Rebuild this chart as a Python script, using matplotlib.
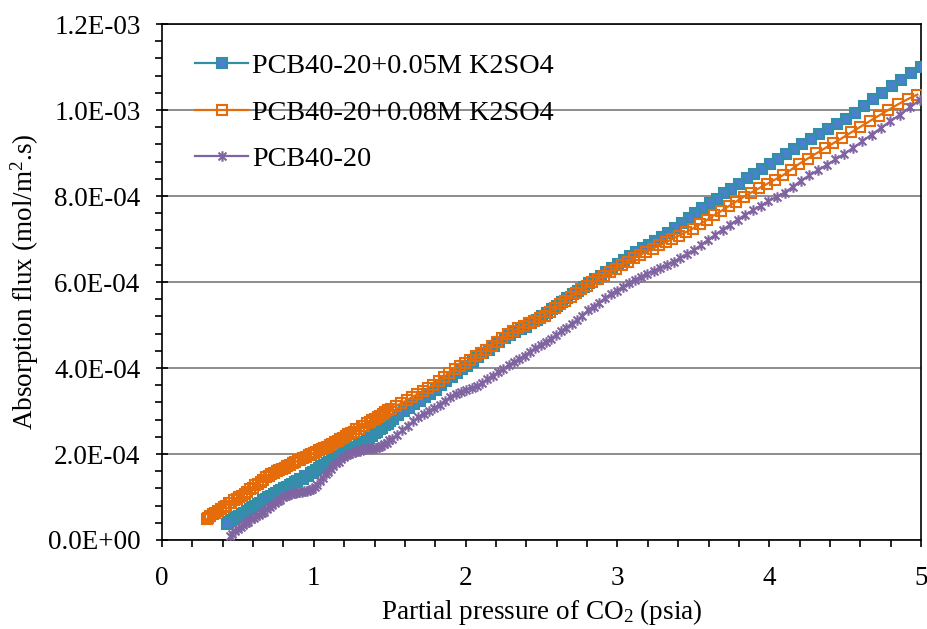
import matplotlib
matplotlib.use("Agg")
import matplotlib.pyplot as plt
from matplotlib.path import Path
from matplotlib.ticker import MultipleLocator, FuncFormatter

plt.rcParams['font.family'] = ['Liberation Serif', 'DejaVu Serif']
plt.rcParams['mathtext.default'] = 'regular'

# ---------------- data (flux in 1e-4 mol/m2.s) ----------------
p_005 = [5.000, 4.935, 4.871, 4.808, 4.745, 4.684, 4.623, 4.563, 4.504, 4.446,
         4.388, 4.331, 4.275, 4.219, 4.165, 4.111, 4.057, 4.005, 3.953, 3.901,
         3.851, 3.801, 3.751, 3.703, 3.655, 3.607, 3.560, 3.514, 3.469, 3.424,
         3.379, 3.335, 3.292, 3.249, 3.207, 3.166, 3.125, 3.084, 3.044, 3.005,
         2.966, 2.927, 2.889, 2.852, 2.815, 2.778, 2.742, 2.707, 2.671, 2.637,
         2.602, 2.569, 2.535, 2.502, 2.467, 2.432, 2.397, 2.362, 2.327, 2.292,
         2.257, 2.222, 2.187, 2.152, 2.117, 2.082, 2.047, 2.012, 1.977, 1.942,
         1.907, 1.872, 1.837, 1.802, 1.767, 1.732, 1.697, 1.662, 1.627, 1.592,
         1.557, 1.522, 1.505, 1.487, 1.470, 1.452, 1.435, 1.417, 1.400, 1.382,
         1.365, 1.347, 1.330, 1.312, 1.295, 1.277, 1.260, 1.242, 1.225, 1.207,
         1.190, 1.172, 1.155, 1.137, 1.120, 1.102, 1.085, 1.067, 1.050, 1.032,
         1.015, 0.997, 0.980, 0.962, 0.945, 0.927, 0.910, 0.892, 0.875, 0.857,
         0.840, 0.822, 0.805, 0.787, 0.770, 0.752, 0.735, 0.717, 0.700, 0.682,
         0.665, 0.647, 0.630, 0.612, 0.595, 0.577, 0.560, 0.542, 0.525, 0.507,
         0.490, 0.472, 0.455, 0.437, 0.425]
f_005 = [11.00, 10.85, 10.70, 10.55, 10.40, 10.25, 10.09, 9.93, 9.80, 9.68,
         9.56, 9.44, 9.32, 9.21, 9.09, 8.97, 8.85, 8.74, 8.63, 8.52,
         8.41, 8.29, 8.17, 8.06, 7.94, 7.83, 7.71, 7.60, 7.49, 7.38,
         7.25, 7.15, 7.05, 6.96, 6.87, 6.78, 6.69, 6.60, 6.51, 6.42,
         6.33, 6.24, 6.15, 6.06, 5.97, 5.89, 5.80, 5.71, 5.62, 5.54,
         5.45, 5.37, 5.28, 5.20, 5.12, 5.04, 4.96, 4.91, 4.84, 4.77,
         4.69, 4.61, 4.52, 4.43, 4.34, 4.25, 4.15, 4.05, 3.98, 3.89,
         3.80, 3.70, 3.60, 3.49, 3.40, 3.32, 3.24, 3.16, 3.07, 2.99,
         2.90, 2.81, 2.77, 2.70, 2.68, 2.61, 2.58, 2.51, 2.48, 2.41,
         2.38, 2.31, 2.29, 2.24, 2.22, 2.17, 2.16, 2.11, 2.09, 2.05,
         2.03, 1.98, 1.95, 1.89, 1.87, 1.82, 1.80, 1.75, 1.72, 1.67,
         1.62, 1.57, 1.55, 1.49, 1.48, 1.43, 1.41, 1.37, 1.35, 1.30,
         1.28, 1.23, 1.21, 1.17, 1.15, 1.10, 1.08, 1.03, 1.00, 0.95,
         0.92, 0.87, 0.84, 0.79, 0.76, 0.71, 0.68, 0.62, 0.60, 0.55,
         0.53, 0.48, 0.46, 0.41, 0.38]

p_008 = [4.976, 4.911, 4.847, 4.784, 4.722, 4.661, 4.600, 4.540, 4.481, 4.423,
         4.366, 4.309, 4.253, 4.198, 4.143, 4.089, 4.036, 3.984, 3.932, 3.881,
         3.831, 3.781, 3.732, 3.683, 3.635, 3.588, 3.541, 3.495, 3.450, 3.405,
         3.361, 3.317, 3.274, 3.232, 3.190, 3.148, 3.107, 3.067, 3.027, 2.988,
         2.949, 2.911, 2.873, 2.835, 2.798, 2.762, 2.726, 2.691, 2.656, 2.621,
         2.587, 2.553, 2.520, 2.487, 2.452, 2.417, 2.382, 2.347, 2.312, 2.277,
         2.242, 2.207, 2.172, 2.137, 2.102, 2.067, 2.032, 1.997, 1.962, 1.927,
         1.892, 1.857, 1.822, 1.787, 1.752, 1.717, 1.682, 1.647, 1.612, 1.577,
         1.542, 1.507, 1.490, 1.472, 1.455, 1.437, 1.420, 1.402, 1.385, 1.367,
         1.350, 1.332, 1.315, 1.297, 1.280, 1.262, 1.245, 1.227, 1.210, 1.192,
         1.175, 1.157, 1.140, 1.122, 1.105, 1.087, 1.070, 1.052, 1.035, 1.017,
         1.000, 0.982, 0.965, 0.947, 0.930, 0.912, 0.895, 0.877, 0.860, 0.842,
         0.825, 0.807, 0.790, 0.772, 0.755, 0.737, 0.720, 0.702, 0.685, 0.667,
         0.650, 0.632, 0.615, 0.597, 0.580, 0.562, 0.545, 0.527, 0.510, 0.492,
         0.475, 0.457, 0.440, 0.422, 0.405, 0.387, 0.370, 0.352, 0.335, 0.317,
         0.300, 0.295]
f_008 = [10.36, 10.25, 10.13, 10.00, 9.87, 9.74, 9.61, 9.48, 9.35, 9.23,
         9.11, 8.99, 8.87, 8.75, 8.61, 8.48, 8.38, 8.28, 8.18, 8.08,
         7.98, 7.87, 7.76, 7.65, 7.55, 7.44, 7.34, 7.24, 7.16, 7.08,
         7.00, 6.92, 6.85, 6.77, 6.70, 6.63, 6.55, 6.47, 6.39, 6.31,
         6.23, 6.15, 6.07, 5.99, 5.91, 5.83, 5.74, 5.66, 5.57, 5.48,
         5.39, 5.30, 5.22, 5.16, 5.10, 5.04, 4.98, 4.92, 4.85, 4.78,
         4.70, 4.61, 4.52, 4.43, 4.35, 4.27, 4.19, 4.12, 4.05, 3.97,
         3.88, 3.79, 3.70, 3.61, 3.53, 3.46, 3.39, 3.32, 3.25, 3.18,
         3.12, 3.05, 3.02, 2.97, 2.94, 2.89, 2.86, 2.81, 2.79, 2.74,
         2.71, 2.66, 2.64, 2.59, 2.57, 2.52, 2.50, 2.46, 2.43, 2.38,
         2.35, 2.30, 2.28, 2.23, 2.21, 2.17, 2.15, 2.11, 2.09, 2.05,
         2.03, 1.99, 1.97, 1.93, 1.91, 1.87, 1.85, 1.81, 1.78, 1.74,
         1.72, 1.68, 1.66, 1.62, 1.60, 1.56, 1.54, 1.49, 1.46, 1.40,
         1.36, 1.30, 1.27, 1.21, 1.18, 1.12, 1.08, 1.03, 1.00, 0.95,
         0.92, 0.87, 0.85, 0.80, 0.77, 0.72, 0.68, 0.63, 0.60, 0.55,
         0.50, 0.48]

p_base = [4.990, 4.925, 4.861, 4.798, 4.736, 4.674, 4.613, 4.553, 4.494, 4.436,
          4.378, 4.321, 4.265, 4.210, 4.155, 4.101, 4.048, 3.995, 3.943, 3.892,
          3.841, 3.791, 3.742, 3.693, 3.645, 3.598, 3.551, 3.505, 3.459, 3.414,
          3.370, 3.326, 3.283, 3.240, 3.198, 3.157, 3.116, 3.075, 3.035, 2.996,
          2.957, 2.918, 2.880, 2.843, 2.806, 2.769, 2.733, 2.698, 2.663, 2.628,
          2.594, 2.560, 2.527, 2.494, 2.459, 2.424, 2.389, 2.354, 2.319, 2.284,
          2.249, 2.214, 2.179, 2.144, 2.109, 2.074, 2.039, 2.004, 1.969, 1.934,
          1.899, 1.864, 1.829, 1.794, 1.759, 1.724, 1.689, 1.654, 1.619, 1.584,
          1.549, 1.514, 1.497, 1.479, 1.462, 1.444, 1.427, 1.409, 1.392, 1.374,
          1.357, 1.339, 1.322, 1.304, 1.287, 1.269, 1.252, 1.234, 1.217, 1.199,
          1.182, 1.164, 1.147, 1.129, 1.112, 1.094, 1.077, 1.059, 1.042, 1.024,
          1.007, 0.989, 0.972, 0.954, 0.937, 0.919, 0.902, 0.884, 0.867, 0.849,
          0.832, 0.814, 0.797, 0.779, 0.762, 0.744, 0.727, 0.709, 0.692, 0.674,
          0.657, 0.639, 0.622, 0.604, 0.587, 0.569, 0.552, 0.534, 0.517, 0.499,
          0.482, 0.464, 0.450]
f_base = [10.23, 10.06, 9.89, 9.74, 9.58, 9.43, 9.27, 9.12, 8.98, 8.85,
          8.72, 8.60, 8.48, 8.36, 8.21, 8.08, 7.98, 7.88, 7.77, 7.67,
          7.56, 7.45, 7.33, 7.22, 7.10, 6.98, 6.86, 6.74, 6.64, 6.56,
          6.47, 6.39, 6.32, 6.26, 6.19, 6.12, 6.05, 5.97, 5.89, 5.80,
          5.71, 5.62, 5.52, 5.43, 5.34, 5.22, 5.11, 5.03, 4.94, 4.85,
          4.76, 4.68, 4.61, 4.53, 4.46, 4.38, 4.29, 4.21, 4.13, 4.06,
          3.98, 3.90, 3.82, 3.74, 3.65, 3.58, 3.53, 3.49, 3.45, 3.40,
          3.32, 3.24, 3.15, 3.07, 3.00, 2.93, 2.85, 2.76, 2.66, 2.55,
          2.45, 2.35, 2.32, 2.26, 2.23, 2.18, 2.17, 2.14, 2.14, 2.12,
          2.13, 2.11, 2.11, 2.08, 2.07, 2.04, 2.03, 1.99, 1.97, 1.92,
          1.88, 1.82, 1.78, 1.71, 1.66, 1.59, 1.53, 1.45, 1.37, 1.28,
          1.23, 1.18, 1.17, 1.14, 1.13, 1.11, 1.11, 1.09, 1.09, 1.06,
          1.05, 1.02, 0.99, 0.94, 0.91, 0.85, 0.82, 0.76, 0.72, 0.66,
          0.63, 0.58, 0.56, 0.51, 0.48, 0.43, 0.40, 0.35, 0.31, 0.25,
          0.21, 0.15, 0.10]

labels = ["PCB40-20+0.05M K2SO4", "PCB40-20+0.08M K2SO4", "PCB40-20"]
x_ticks = [0, 1, 2, 3, 4, 5]
y_ticks = [0.0, 2.0e-4, 4.0e-4, 6.0e-4, 8.0e-4, 1.0e-3, 1.2e-3]

# ---------------- figure ----------------
fig = plt.figure(figsize=(9.28, 6.29), dpi=100)
ax = fig.add_axes([0.1746, 0.1415, 0.8179, 0.8203])

star = Path([(0, -1), (0, 1), (-0.75, -0.75), (0.75, 0.75), (-0.75, 0.75), (0.75, -0.75)],
            [Path.MOVETO, Path.LINETO, Path.MOVETO, Path.LINETO, Path.MOVETO, Path.LINETO])

ax.plot(p_005, [v * 1e-4 for v in f_005], color='#3190A6', lw=1.6,
        marker='s', ms=6.6, mfc='#4A80CC', mec='#3190A6', mew=1.5,
        label=labels[0], zorder=3)
ax.plot(p_008, [v * 1e-4 for v in f_008], color='#E46C0A', lw=1.6,
        marker='s', ms=6.6, mfc='none', mec='#E46C0A', mew=1.5,
        label=labels[1], zorder=4)
ax.plot(p_base, [v * 1e-4 for v in f_base], color='#8064A2', lw=1.6,
        marker=star, ms=7.6, mfc='#8064A2', mec='#8064A2', mew=1.5,
        label=labels[2], zorder=5)

ax.set_xlim(0, 5)
ax.set_ylim(0, 1.2e-3)
ax.set_xticks(x_ticks)
ax.set_yticks(y_ticks)
ax.xaxis.set_minor_locator(MultipleLocator(0.2))
ax.yaxis.set_minor_locator(MultipleLocator(4e-5))
ax.yaxis.set_major_formatter(FuncFormatter(lambda v, p: f"{v:.1E}"))

ax.grid(axis='y', which='major', color='#8C8C8C', lw=1.4)
ax.set_axisbelow(True)
for s in ax.spines.values():
    s.set_color('black')
    s.set_linewidth(1.2)

ax.tick_params(axis='x', which='major', direction='out', length=5, width=1.2,
               labelsize=19.5, pad=14)
ax.tick_params(axis='x', which='minor', direction='out', length=5, width=1.2)
ax.tick_params(axis='y', which='major', direction='inout', length=9, width=1.2,
               labelsize=19.5, pad=11)
ax.tick_params(axis='y', which='minor', direction='out', length=5, width=1.2)

ax.set_xlabel("Partial pressure of CO$_2$ (psia)", fontsize=19.5, labelpad=4)
ax.set_ylabel("Absorption flux (mol/m$^2$.s)", fontsize=19.5, labelpad=5)

leg = ax.legend(loc='upper left', bbox_to_anchor=(0.0286, 0.965), frameon=False,
                fontsize=20.3, handlelength=1.88, handletextpad=0.14,
                labelspacing=0.74, borderaxespad=0)

fig.savefig("out.png", dpi=100)
